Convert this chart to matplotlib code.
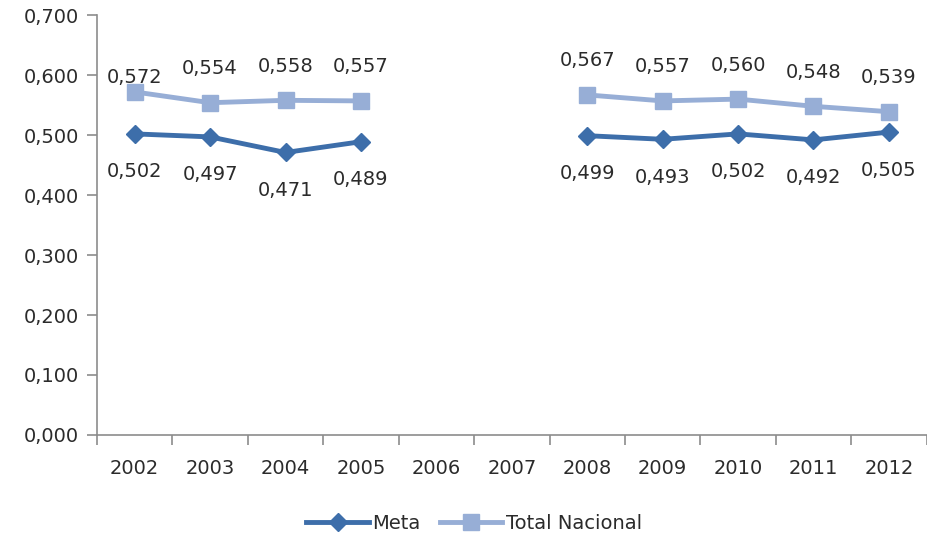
import numpy as np
import matplotlib
matplotlib.use('Agg')
import matplotlib.pyplot as plt
from matplotlib.ticker import FuncFormatter

years = ['2002', '2003', '2004', '2005', '2006', '2007', '2008', '2009', '2010', '2011', '2012']
meta = [0.502, 0.497, 0.471, 0.489, np.nan, np.nan, 0.499, 0.493, 0.502, 0.492, 0.505]
total_nacional = [0.572, 0.554, 0.558, 0.557, np.nan, np.nan, 0.567, 0.557, 0.560, 0.548, 0.539]

META_COLOR = '#3d6eaa'
TOTAL_COLOR = '#97aed6'
AXIS_COLOR = '#8c8c8c'
TEXT_COLOR = '#2b2b2b'
FS = 14

plt.rcParams['font.family'] = ['DejaVu Sans']

fig = plt.figure(figsize=(9.28, 5.41), dpi=100)
ax = fig.add_axes([0.1045, 0.196, 0.894, 0.776])

x = np.arange(len(years))
ax.plot(x, meta, color=META_COLOR, lw=3.5, marker='D', ms=9,
        markeredgecolor=META_COLOR, label='Meta')
ax.plot(x, total_nacional, color=TOTAL_COLOR, lw=3.5, marker='s', ms=11,
        markeredgecolor=TOTAL_COLOR, label='Total Nacional')

def fmt(v):
    return f'{v:.3f}'.replace('.', ',')

for i in range(len(years)):
    if not np.isnan(total_nacional[i]):
        off = 14 if i == 0 else 34
        ax.annotate(fmt(total_nacional[i]), (x[i], total_nacional[i]),
                    xytext=(0, off), textcoords='offset pixels',
                    ha='center', va='center', fontsize=FS, color=TEXT_COLOR)
    if not np.isnan(meta[i]):
        ax.annotate(fmt(meta[i]), (x[i], meta[i]),
                    xytext=(0, -38), textcoords='offset pixels',
                    ha='center', va='center', fontsize=FS, color=TEXT_COLOR)

ax.set_xlim(-0.5, len(years) - 0.5)
ax.set_ylim(0, 0.7)
ax.set_yticks(np.arange(0, 0.71, 0.1))
ax.yaxis.set_major_formatter(FuncFormatter(lambda v, p: fmt(v)))
ax.set_xticks(x)
ax.set_xticklabels(years)
ax.set_xticks(np.arange(-0.5, len(years)), minor=True)
ax.tick_params(axis='x', which='major', length=0, pad=17, labelsize=FS, labelcolor=TEXT_COLOR)
ax.tick_params(axis='x', which='minor', length=7, width=1.2, color=AXIS_COLOR, direction='out')
ax.tick_params(axis='y', length=7, width=1.2, color=AXIS_COLOR, direction='out',
               labelsize=FS, labelcolor=TEXT_COLOR, pad=6)

for side in ['top', 'right']:
    ax.spines[side].set_visible(False)
for side in ['left', 'bottom']:
    ax.spines[side].set_color(AXIS_COLOR)
    ax.spines[side].set_linewidth(1.2)

ax.legend(loc='center', bbox_to_anchor=(0.455, -0.21), ncol=2, frameon=False,
          fontsize=FS, handlelength=3.2, columnspacing=1.0, handletextpad=0.2,
          labelcolor=TEXT_COLOR)

fig.savefig('out.png', dpi=100)
